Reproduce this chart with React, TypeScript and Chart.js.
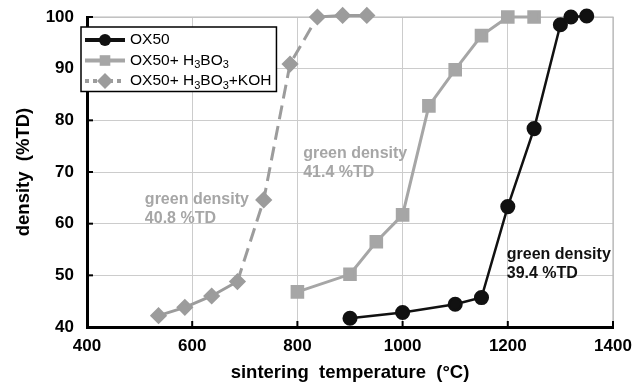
import React, { useEffect, useRef } from 'react';
import { Chart, registerables } from 'chart.js';

Chart.register(...registerables);

// ---- data ----
const ox50Temp = [900, 1000, 1100, 1150, 1200, 1250, 1300, 1320, 1350];
const ox50Density = [41.7, 42.8, 44.4, 45.7, 63.3, 78.4, 98.5, 100.0, 100.2];
const boricTemp = [800, 900, 950, 1000, 1050, 1100, 1150, 1200, 1250];
const boricDensity = [46.8, 50.2, 56.5, 61.7, 82.8, 89.8, 96.4, 100.0, 100.0];
const kohTemp = [536, 586, 637, 686, 736, 786, 838, 886, 932];
const kohDensity = [42.2, 43.8, 46.0, 48.8, 64.6, 90.9, 100.0, 100.3, 100.3];
const seriesNames = ['OX50', 'OX50+ H₃BO₃', 'OX50+ H₃BO₃+KOH'];
const xTickValues = [400, 600, 800, 1000, 1200, 1400];
const yTickValues = [40, 50, 60, 70, 80, 90, 100];
const xTitle = 'sintering  temperature  (°C)';
const yTitle = 'density  (%TD)';
const noteTexts = [
  ['green density', '40.8 %TD'],
  ['green density', '41.4 %TD'],
  ['green density', '39.4 %TD'],
];
const noteAnchorX = [510, 811, 1198];
const noteAnchorY = [64.6, 73.5, 54.0];

const BLACK = '#111111';
const GRAY = '#a6a6a6';
const GRAY2 = '#9c9c9c';
const noteColors = [GRAY, GRAY, BLACK];
const FONT = 'Arial, "Liberation Sans", Helvetica, sans-serif';

const SUBS: Record<string, string> = { '₀': '0', '₁': '1', '₂': '2', '₃': '3', '₄': '4' };

function drawRich(ctx: CanvasRenderingContext2D, text: string, x: number, y: number, size: number, color: string) {
  const runs: { t: string; sub: boolean }[] = [];
  for (const ch of text) {
    const sub = ch in SUBS;
    const c = sub ? SUBS[ch] : ch;
    const last = runs[runs.length - 1];
    if (last && last.sub === sub) last.t += c;
    else runs.push({ t: c, sub });
  }
  ctx.save();
  ctx.fillStyle = color;
  ctx.textBaseline = 'middle';
  ctx.textAlign = 'left';
  let cx = x;
  for (const r of runs) {
    ctx.font = `${r.sub ? Math.round(size * 0.68) : size}px ${FONT}`;
    ctx.fillText(r.t, cx, r.sub ? y + size * 0.3 : y);
    cx += ctx.measureText(r.t).width;
  }
  ctx.restore();
  return cx - x;
}

function drawMarker(ctx: CanvasRenderingContext2D, style: string, x: number, y: number, r: number, color: string) {
  ctx.save();
  ctx.fillStyle = color;
  ctx.beginPath();
  if (style === 'circle') ctx.arc(x, y, r, 0, Math.PI * 2);
  else if (style === 'rect') {
    const h = r * Math.SQRT1_2;
    ctx.rect(x - h, y - h, 2 * h, 2 * h);
  } else {
    ctx.moveTo(x, y - r);
    ctx.lineTo(x + r, y);
    ctx.lineTo(x, y + r);
    ctx.lineTo(x - r, y);
    ctx.closePath();
  }
  ctx.fill();
  ctx.restore();
}

const overlayPlugin = {
  id: 'overlay',
  beforeDatasetsDraw(chart: any) {
    const ctx: CanvasRenderingContext2D = chart.ctx;
    const a = chart.chartArea;
    ctx.save();
    ctx.strokeStyle = '#b8b8b8';
    ctx.lineWidth = 1.2;
    ctx.beginPath();
    ctx.moveTo(a.left, a.top);
    ctx.lineTo(a.right, a.top);
    ctx.lineTo(a.right, a.bottom);
    ctx.stroke();
    ctx.restore();
  },
  afterDatasetsDraw(chart: any) {
    const ctx: CanvasRenderingContext2D = chart.ctx;
    const xs = chart.scales.x;
    const ys = chart.scales.y;
    const area = chart.chartArea;

    // inside tick marks
    ctx.save();
    ctx.strokeStyle = '#000';
    ctx.lineWidth = 2;
    for (const v of yTickValues) {
      const py = ys.getPixelForValue(v);
      ctx.beginPath();
      ctx.moveTo(area.left, py);
      ctx.lineTo(area.left + 6, py);
      ctx.stroke();
    }
    for (const v of xTickValues) {
      const px = xs.getPixelForValue(v);
      ctx.beginPath();
      ctx.moveTo(px, area.bottom);
      ctx.lineTo(px, area.bottom - 6);
      ctx.stroke();
    }
    ctx.restore();

    // annotations
    ctx.save();
    ctx.font = `bold 16px ${FONT}`;
    ctx.textBaseline = 'middle';
    noteTexts.forEach((lines, i) => {
      ctx.fillStyle = noteColors[i];
      const px = xs.getPixelForValue(noteAnchorX[i]);
      const py = ys.getPixelForValue(noteAnchorY[i]);
      lines.forEach((l, j) => ctx.fillText(l, px, py + j * 19));
    });
    ctx.restore();

    // legend
    const ds = chart.data.datasets;
    const boxL = area.left - 6;
    const boxT = area.top + 10;
    const rowH = 20.5;
    const textX = boxL + 49;
    const fs = 15.5;
    ctx.save();
    let maxW = 0;
    const mctx = document.createElement('canvas').getContext('2d')!;
    ds.forEach((d: any) => {
      maxW = Math.max(maxW, drawRich(mctx, d.label, 0, 0, fs, '#000'));
    });
    const boxW = textX - boxL + maxW + 5;
    const boxH = rowH * ds.length + 3;
    ctx.fillStyle = '#fff';
    ctx.fillRect(boxL, boxT, boxW, boxH);
    ctx.strokeStyle = '#000';
    ctx.lineWidth = 1.5;
    ctx.strokeRect(boxL, boxT, boxW, boxH);
    ds.forEach((d: any, i: number) => {
      const cy = boxT + 13 + i * rowH;
      ctx.save();
      ctx.strokeStyle = d.borderColor;
      ctx.lineWidth = d.legendLineWidth;
      ctx.setLineDash(d.legendDash || []);
      ctx.beginPath();
      ctx.moveTo(boxL + 4, cy);
      ctx.lineTo(boxL + 44, cy);
      ctx.stroke();
      ctx.restore();
      drawMarker(ctx, d.pointStyle, boxL + 24, cy, d.legendMarker, d.pointBackgroundColor);
      drawRich(ctx, d.label, textX, cy, fs, '#000');
    });
    ctx.restore();
  },
};

export default function App() {
  const ref = useRef<HTMLCanvasElement>(null);
  useEffect(() => {
    const toPts = (xs: number[], ys: number[]) => xs.map((x, i) => ({ x, y: ys[i] }));
    const chart = new Chart(ref.current!, {
      type: 'scatter',
      data: {
        datasets: [
          {
            label: seriesNames[0],
            data: toPts(ox50Temp, ox50Density),
            showLine: true,
            borderColor: BLACK,
            backgroundColor: BLACK,
            pointBackgroundColor: BLACK,
            pointBorderColor: BLACK,
            borderWidth: 2.5,
            pointStyle: 'circle',
            pointRadius: 6.3,
            clip: false,
            legendLineWidth: 4,
            legendMarker: 6,
          } as any,
          {
            label: seriesNames[1],
            data: toPts(boricTemp, boricDensity),
            showLine: true,
            borderColor: GRAY,
            backgroundColor: GRAY,
            pointBackgroundColor: GRAY,
            pointBorderColor: GRAY,
            borderWidth: 3,
            pointStyle: 'rect',
            pointRadius: 7.5,
            clip: false,
            legendLineWidth: 4,
            legendMarker: 7.5,
          } as any,
          {
            label: seriesNames[2],
            data: toPts(kohTemp, kohDensity),
            showLine: true,
            borderColor: GRAY2,
            backgroundColor: GRAY2,
            pointBackgroundColor: GRAY2,
            pointBorderColor: GRAY2,
            borderWidth: 3,
            pointStyle: 'rectRot',
            pointRadius: 6.5,
            clip: false,
            segment: {
              borderDash: (c: any) => (c.p0DataIndex >= 3 && c.p0DataIndex <= 5 ? [14, 7] : undefined),
            },
            legendLineWidth: 4,
            legendDash: [4, 4],
            legendMarker: 8,
          } as any,
        ],
      },
      options: {
        animation: false,
        responsive: false,
        layout: { padding: { left: 0, top: 17, right: 22, bottom: 0 } },
        plugins: { legend: { display: false }, tooltip: { enabled: false } },
        scales: {
          x: {
            type: 'linear',
            min: 400,
            max: 1400,
            afterFit: (s: any) => { s.height = 58; s.paddingLeft = 0; s.paddingRight = 0; },
            afterBuildTicks: (s: any) => { s.ticks = xTickValues.map((v) => ({ value: v })); },
            grid: { color: '#cccccc', lineWidth: 1, drawTicks: false },
            border: { color: '#000', width: 3 },
            ticks: {
              color: '#000',
              font: { family: FONT, size: 17, weight: 'bold' },
              padding: 9,
              callback: (v: any) => String(v),
            },
            title: {
              display: true,
              text: xTitle,
              color: '#000',
              font: { family: FONT, size: 18.5, weight: 'bold' },
              padding: { top: 0, bottom: 1 },
            },
          },
          y: {
            type: 'linear',
            min: 40,
            max: 100,
            afterFit: (s: any) => { s.width = 87; s.paddingTop = 0; s.paddingBottom = 0; },
            afterBuildTicks: (s: any) => { s.ticks = yTickValues.map((v) => ({ value: v })); },
            grid: { color: '#cccccc', lineWidth: 1, drawTicks: false },
            border: { color: '#000', width: 3 },
            ticks: {
              color: '#000',
              font: { family: FONT, size: 17, weight: 'bold' },
              padding: 13,
              callback: (v: any) => String(v),
            },
            title: {
              display: true,
              text: yTitle,
              color: '#000',
              font: { family: FONT, size: 18.5, weight: 'bold' },
              padding: { top: 13, bottom: 0 },
            },
          },
        },
      } as any,
      plugins: [overlayPlugin],
    });
    return () => chart.destroy();
  }, []);
  return (
    <div style={{ position: 'fixed', left: 0, top: 0, width: 635, height: 385, background: '#fff' }}>
      <canvas ref={ref} width={635} height={385} />
    </div>
  );
}
